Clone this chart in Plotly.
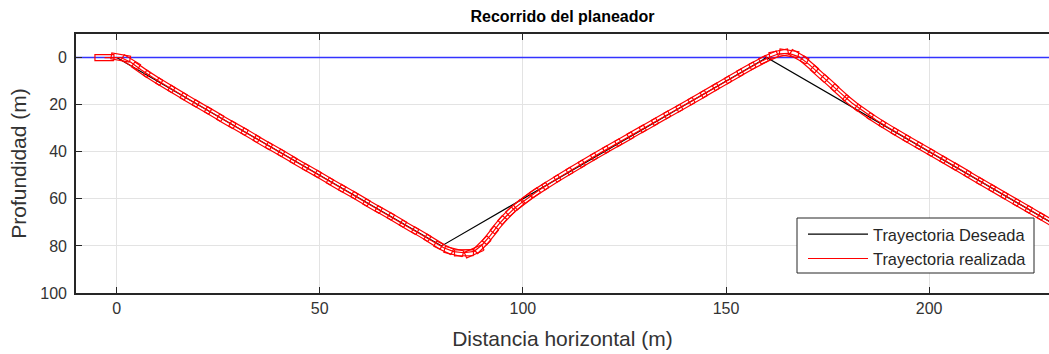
import numpy as np
import plotly.graph_objects as go

# ---- data ----
surface_x = [-10, 240]
surface_y = [0, 0]

desired_x = [0, 80, 160, 240]
desired_y = [0, 80, 0, 80]

realized_x = [-3, 1, 3.5, 6, 9, 12, 15, 18, 21, 24, 27, 30, 33, 36, 39, 42, 45, 48, 51, 54,
              57, 60, 63, 66, 69, 72, 75, 78, 80.5, 83, 85.5, 88, 90, 92, 94, 96, 98, 100,
              102, 104, 107, 110, 113, 116, 119, 122, 125, 128, 131, 134, 137, 140, 143, 146,
              149, 152, 155, 158, 160.5, 163, 165.5, 168, 170.5, 173, 175.5, 178, 181, 184,
              187, 190, 193, 196, 199, 202, 205, 208, 211, 214, 217, 220, 223, 226, 229, 232]
realized_y = [0, 0, 2.0, 5.2, 8.6, 11.8, 14.9, 18.0, 21.0, 24.0, 27.1, 30.0, 33.0, 36.1, 39.0,
              42.0, 45.1, 48.0, 51.0, 54.1, 57.0, 60.0, 63.1, 66.0, 69.0, 72.1, 75.0, 78.2,
              80.8, 82.4, 82.9, 82.3, 79.5, 75.5, 71.0, 67.2, 63.9, 61.2, 58.6, 56.3, 53.0,
              49.8, 46.7, 43.6, 40.6, 37.6, 34.7, 31.7, 28.8, 25.8, 22.9, 20.0, 17.0, 14.0,
              11.0, 8.0, 5.0, 2.2, 0.0, -1.6, -1.8, -0.3, 3.0, 7.0, 10.8, 14.8, 19.3, 23.1,
              26.6, 29.8, 32.9, 35.9, 38.9, 41.9, 44.9, 47.9, 51.0, 54.0, 57.0, 60.0, 63.0,
              66.0, 69.0, 72.0]

x_ticks = [0, 50, 100, 150, 200]
y_ticks = [0, 20, 40, 60, 80, 100]

FONT = "Liberation Sans, Arial, sans-serif"

# ---- layout geometry ----
W, H = 1049, 354
ML, MR, MT, MB = 76, 0, 34, 61
XR = [-10, 229.5]
YR = [-10, 100]
kx = (W - ML - MR) / (XR[1] - XR[0])
ky = (H - MT - MB) / (YR[1] - YR[0])

# glider outlines (rectangles oriented along the path, in screen space)
L_px, W_px = 19.0, 6.0
rx, ry = np.array(realized_x, float), np.array(realized_y, float)
gx, gy = [], []
n = len(rx)
for i in range(n):
    a, b = max(i - 1, 0), min(i + 1, n - 1)
    dx = (rx[b] - rx[a]) * kx
    dy = (ry[b] - ry[a]) * ky
    d = np.hypot(dx, dy)
    ux, uy = dx / d, dy / d
    nx, ny = -uy, ux
    for s, t in [(1, 1), (1, -1), (-1, -1), (-1, 1), (1, 1)]:
        px = s * L_px / 2 * ux + t * W_px / 2 * nx
        py = s * L_px / 2 * uy + t * W_px / 2 * ny
        gx.append(rx[i] + px / kx)
        gy.append(ry[i] + py / ky)
    gx.append(None); gy.append(None)

fig = go.Figure()
fig.add_trace(go.Scatter(x=surface_x, y=surface_y, mode="lines",
                         line=dict(color="#3333ff", width=1.5), showlegend=False, hoverinfo="skip"))
fig.add_trace(go.Scatter(x=desired_x, y=desired_y, mode="lines", name="Trayectoria Deseada",
                         line=dict(color="black", width=1.2)))
fig.add_trace(go.Scatter(x=realized_x, y=realized_y, mode="lines", name="Trayectoria realizada",
                         line=dict(color="#ff0000", width=1.2)))
fig.add_trace(go.Scatter(x=gx, y=gy, mode="lines", line=dict(color="#ff0000", width=1.2),
                         showlegend=False, hoverinfo="skip"))

axis_common = dict(
    showgrid=True, gridcolor="#e3e3e3", gridwidth=1,
    showline=True, linecolor="#262626", linewidth=1.6,
    ticks="inside", ticklen=6, tickcolor="#262626", tickwidth=1,
    zeroline=False,
    tickfont=dict(family=FONT, size=16, color="#333333"),
)

# legend frame (drawn as a paper-space shape to match MATLAB's wider legend box)
LEG_L, LEG_R, LEG_T, LEG_B = 797, 1034, 218, 273
pw, ph = W - ML - MR, H - MT - MB

fig.update_layout(
    width=W, height=H,
    margin=dict(l=ML, r=MR, t=MT, b=MB),
    paper_bgcolor="white", plot_bgcolor="white",
    title=dict(text="<b>Recorrido del planeador</b>", x=(ML + (W - ML) / 2) / W, xanchor="center",
               y=1 - 16 / H, yanchor="middle",
               font=dict(family=FONT, size=16, color="black")),
    xaxis=dict(range=XR, tickvals=x_ticks, mirror="ticks",
               title=dict(text="Distancia horizontal (m)", standoff=15,
                          font=dict(family=FONT, size=21, color="#333333")),
               **axis_common),
    yaxis=dict(range=[YR[1], YR[0]], tickvals=y_ticks, mirror=False, ticklabelstandoff=4,
               title=dict(text="Profundidad (m)", standoff=8,
                          font=dict(family=FONT, size=21, color="#333333")),
               **axis_common),
    legend=dict(x=(LEG_L + 6 - ML) / pw, y=(H - MB - LEG_T + 1) / ph, xanchor="left", yanchor="top",
                bgcolor="rgba(0,0,0,0)", borderwidth=0, itemwidth=60,
                font=dict(family=FONT, size=16.4, color="#262626"),
                tracegroupgap=0),
    shapes=[dict(type="rect", xref="paper", yref="paper",
                 x0=(LEG_L - ML) / pw, x1=(LEG_R - ML) / pw,
                 y0=(H - MB - LEG_B) / ph, y1=(H - MB - LEG_T) / ph,
                 line=dict(color="#262626", width=1), fillcolor="white", layer="above")],
)

fig.write_html("out.html")
